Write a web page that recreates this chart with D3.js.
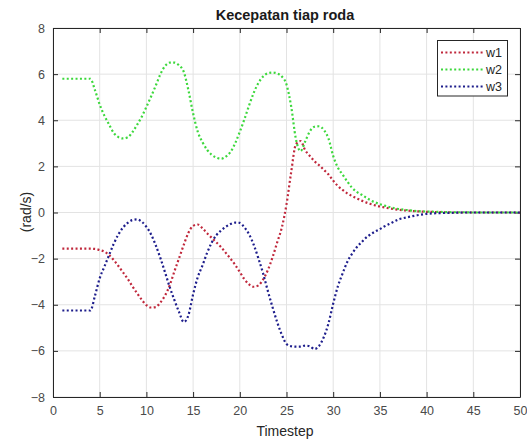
<!DOCTYPE html>
<html><head><meta charset="utf-8">
<script src="https://cdn.jsdelivr.net/npm/d3@7"></script>
<style>body{margin:0;background:#fff;} text{font-family:"Liberation Sans",Arial,sans-serif;}</style>
</head><body><svg id="c" width="527" height="444"></svg>
<script>
const timestep = [1,1.5,2,2.5,3,3.5,4,4.5,5,5.5,6,6.5,7,7.5,8,8.5,9,9.5,10,10.5,11,11.5,12,12.5,13,13.5,14,14.5,15,15.5,16,16.5,17,17.5,18,18.5,19,19.5,20,20.5,21,21.5,22,22.5,23,23.5,24,24.5,25,25.5,26,26.5,27,27.5,28,28.5,29,29.5,30,30.5,31,31.5,32,32.5,33,33.5,34,34.5,35,35.5,36,37,38,39,40,41,42,43,44,45,46,47,48,49,50];
const w1 = [-1.57,-1.57,-1.57,-1.57,-1.57,-1.57,-1.57,-1.58,-1.63,-1.7,-1.84,-2.06,-2.32,-2.6,-2.88,-3.2,-3.5,-3.78,-4.02,-4.12,-4.1,-3.9,-3.6,-3.15,-2.55,-1.98,-1.4,-0.88,-0.58,-0.52,-0.68,-0.9,-1.1,-1.3,-1.5,-1.75,-2.0,-2.27,-2.58,-2.9,-3.12,-3.22,-3.16,-2.9,-2.5,-1.95,-1.3,-0.65,0.35,1.75,2.95,3.1,2.7,2.45,2.22,2.05,1.85,1.65,1.38,1.15,0.98,0.83,0.72,0.62,0.52,0.44,0.37,0.31,0.26,0.22,0.18,0.12,0.08,0.05,0.03,0.02,0.01,0,0,0,0,0,0,0,0];
const w2 = [5.8,5.8,5.8,5.8,5.8,5.8,5.8,5.3,4.68,4.2,3.82,3.45,3.27,3.21,3.26,3.48,3.8,4.15,4.58,5.03,5.5,6.0,6.35,6.5,6.5,6.38,6.1,5.3,4.3,3.5,3.05,2.72,2.5,2.38,2.33,2.42,2.62,3.0,3.5,4.05,4.65,5.2,5.62,5.9,6.04,6.07,6.03,5.9,5.55,4.6,3.2,2.66,3.08,3.52,3.72,3.74,3.58,3.2,2.45,1.95,1.65,1.35,1.08,0.9,0.78,0.65,0.53,0.44,0.36,0.3,0.24,0.15,0.1,0.06,0.04,0.03,0.02,0.01,0.01,0,0,0,0,0,0];
const w3 = [-4.25,-4.25,-4.25,-4.25,-4.25,-4.25,-4.25,-3.6,-2.85,-2.35,-1.85,-1.36,-0.95,-0.65,-0.45,-0.33,-0.3,-0.4,-0.62,-0.95,-1.42,-1.98,-2.6,-3.24,-3.8,-4.32,-4.75,-4.45,-3.55,-2.8,-2.3,-1.75,-1.3,-0.98,-0.78,-0.62,-0.5,-0.44,-0.45,-0.65,-0.95,-1.41,-2.0,-2.65,-3.4,-4.1,-4.75,-5.3,-5.7,-5.8,-5.82,-5.82,-5.77,-5.8,-5.92,-5.78,-5.4,-4.8,-3.95,-3.2,-2.65,-2.15,-1.8,-1.52,-1.3,-1.1,-0.95,-0.82,-0.72,-0.6,-0.5,-0.3,-0.2,-0.12,-0.06,-0.03,-0.02,-0.01,0,0,0,0,0,0,0];
const seriesNames = ["w1","w2","w3"];
const seriesColors = ["#c0283c","#3cd83c","#1e1e8c"];
const xTicks = [0,5,10,15,20,25,30,35,40,45,50];
const yTicks = [-8,-6,-4,-2,0,2,4,6,8];
const titleText = "Kecepatan tiap roda";
const xLabel = "Timestep";
const yLabel = "(rad/s)";

const svg = d3.select("#c");
const L = 53, R = 520, T = 28, B = 397;
const x = d3.scaleLinear().domain([0,50]).range([L,R]);
const y = d3.scaleLinear().domain([-8,8]).range([B,T]);

// grid
const g = svg.append("g");
g.selectAll(".gx").data(xTicks).join("line").attr("x1",d=>x(d)).attr("x2",d=>x(d)).attr("y1",T).attr("y2",B).attr("stroke","#e3e3e3").attr("stroke-width",1);
g.selectAll(".gy").data(yTicks).join("line").attr("y1",d=>y(d)).attr("y2",d=>y(d)).attr("x1",L).attr("x2",R).attr("stroke","#e3e3e3").attr("stroke-width",1);

// axes
const ax = d3.axisBottom(x).tickValues(xTicks).tickSizeInner(-5).tickSizeOuter(0).tickPadding(9);
const axT = d3.axisTop(x).tickValues(xTicks).tickSizeInner(-5).tickSizeOuter(0).tickFormat("");
const ay = d3.axisLeft(y).tickValues(yTicks).tickSizeInner(-5).tickSizeOuter(0).tickPadding(8);
const ayR = d3.axisRight(y).tickValues(yTicks).tickSizeInner(-5).tickSizeOuter(0).tickFormat("");
function style(sel){
  sel.select(".domain").attr("stroke","#262626");
  sel.selectAll(".tick line").attr("stroke","#262626");
  sel.selectAll("text").attr("fill","#4a4a4a").attr("font-size","12.5px").attr("font-family","Liberation Sans, Arial, sans-serif");
}
svg.append("g").attr("transform",`translate(0,${B})`).call(ax).call(style);
svg.append("g").attr("transform",`translate(0,${T})`).call(axT).call(style);
svg.append("g").attr("transform",`translate(${L},0)`).call(ay).call(style);
svg.append("g").attr("transform",`translate(${R},0)`).call(ayR).call(style);

// lines
const data = [w1,w2,w3];
const line = d3.line().x((d,i)=>x(timestep[i])).y(d=>y(d)).curve(d3.curveMonotoneX);
data.forEach((s,k)=>{
  svg.append("path").datum(s).attr("d",line).attr("fill","none")
    .attr("stroke",seriesColors[k]).attr("stroke-width",2.2).attr("stroke-dasharray","2,2.4");
});

// legend
const lg = svg.append("g");
lg.append("rect").attr("x",437.5).attr("y",40.5).attr("width",70).attr("height",55.5).attr("fill","#fff").attr("stroke","#262626").attr("stroke-width",1);
seriesNames.forEach((n,k)=>{
  const yy = 52.5 + k*17;
  lg.append("line").attr("x1",441).attr("x2",485).attr("y1",yy).attr("y2",yy).attr("stroke",seriesColors[k]).attr("stroke-width",2.2).attr("stroke-dasharray","2,2.4");
  lg.append("text").attr("x",486).attr("y",yy+4.5).text(n).attr("font-size","12.5px").attr("fill","#262626");
});

svg.append("text").attr("x",285).attr("y",20).attr("text-anchor","middle").attr("font-weight","bold").attr("font-size","14.5px").attr("fill","#1a1a1a").text(titleText);
svg.append("text").attr("x",285).attr("y",436).attr("text-anchor","middle").attr("font-size","14px").attr("fill","#262626").text(xLabel);
svg.append("text").attr("transform","translate(31,212) rotate(-90)").attr("text-anchor","middle").attr("font-size","14px").attr("fill","#262626").text(yLabel);
</script></body></html>
